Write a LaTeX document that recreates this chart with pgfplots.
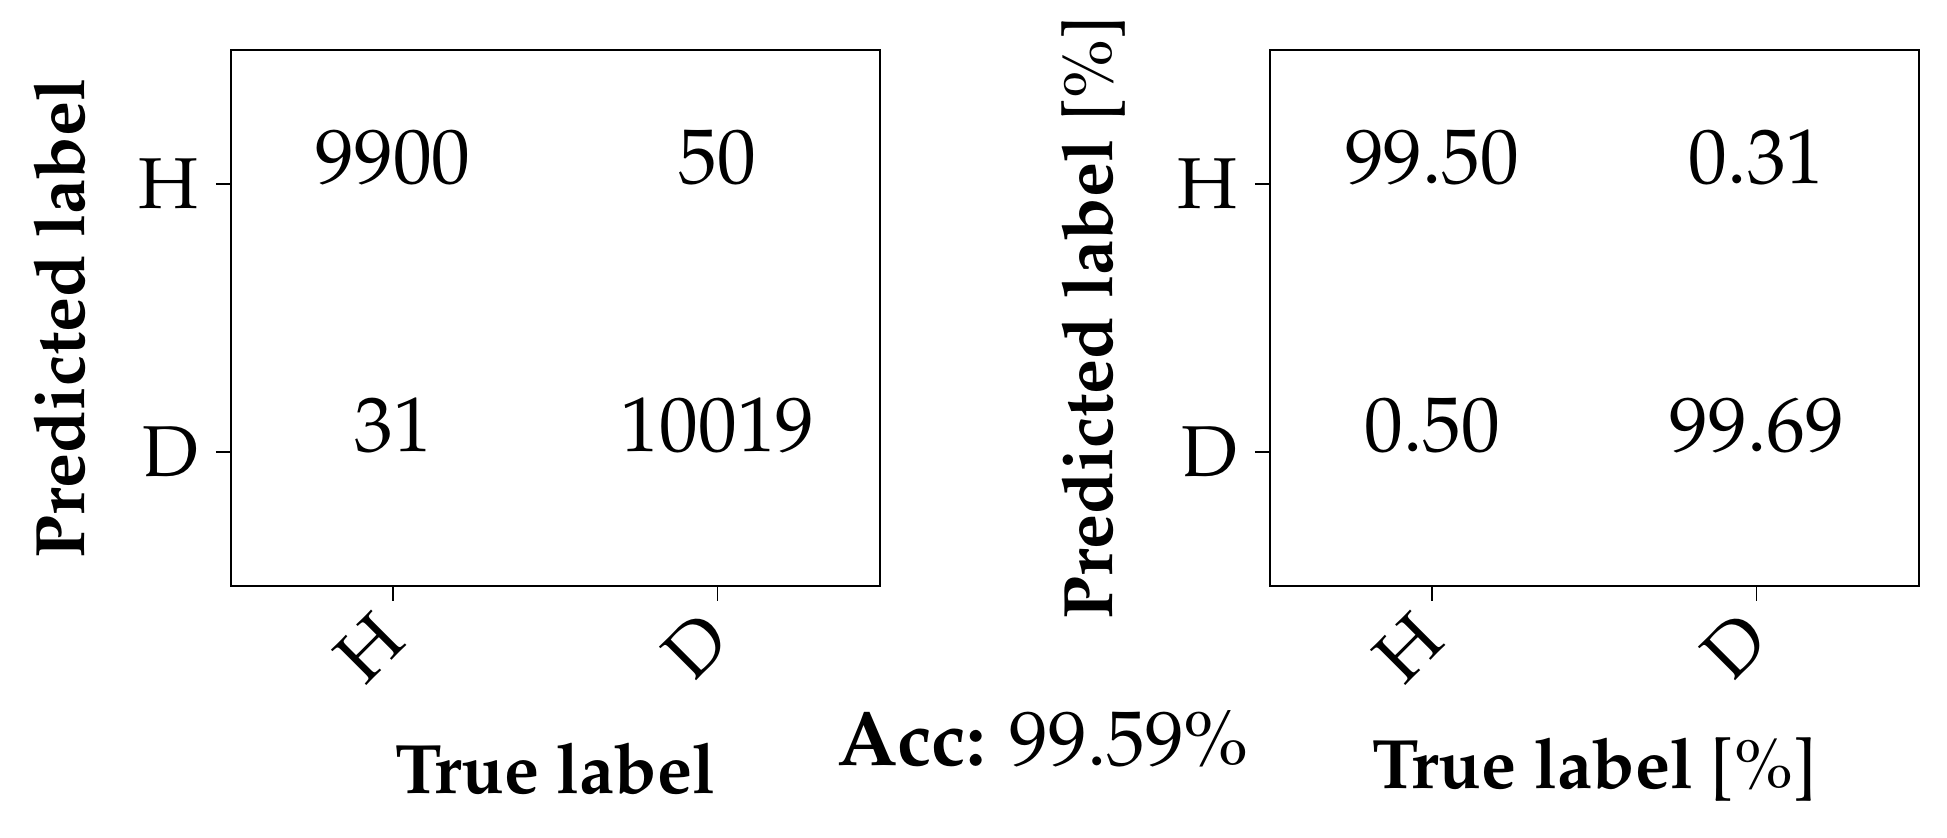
\documentclass[border=0pt]{standalone}
\usepackage[T1]{fontenc}
\usepackage{mathpazo}
\usepackage{pgfplots}
\pgfplotsset{compat=1.18}
\newcommand{\fs}{\fontsize{14.4}{17}\selectfont}
\newcommand{\fl}{\fontsize{14.0}{17}\selectfont}
\newcommand{\fn}{\fontsize{15.5}{18}\selectfont}

% confusion matrix look: 2x2 cells, ticks outside, numbers at cell centres
\pgfplotsset{cm/.style={
    scale only axis, width=129.8pt, height=107.2pt,
    xmin=-0.5, xmax=1.5, ymin=-0.5, ymax=1.5,
    xtick={0,1}, xticklabels={H,D},
    ytick={0,1}, yticklabels={D,H},
    tick align=outside, xtick pos=bottom, ytick pos=left,
    major tick length=3pt,
    tick label style={font=\fs},
    x tick label style={xshift=2pt, yshift=-2.7pt, rotate=45, anchor=east},
    axis line style={line width=0.3pt},
    every tick/.style={black, line width=0.3pt},
    label style={font=\fl\bfseries},
    clip=false,
    nodes near coords, point meta=explicit symbolic,
    every node near coord/.append style={anchor=base, font=\fn, inner sep=0pt, black},
}}

\begin{document}
\begin{tikzpicture}
\useasboundingbox (0,0) rectangle (389.4pt,-167.6pt);

\begin{axis}[cm, at={(46.2pt,-117.2pt)}, anchor=south west,
    xlabel={True label}, ylabel={Predicted label},
    xlabel style={at={(axis description cs:0.5,-0.341)}, anchor=center},
    ylabel style={at={(axis description cs:-0.264,0.5)}, anchor=center}]
\addplot[draw=none, mark=none] table[meta=v] {
x y v
0 1 9900
1 1 50
0 0 31
1 0 10019
};
\end{axis}

\begin{axis}[cm, at={(254pt,-117.2pt)}, anchor=south west,
    xlabel={True label {\mdseries[\%]}}, ylabel={Predicted label {\mdseries[\%]}},
    xlabel style={at={(axis description cs:0.5,-0.343)}, anchor=center},
    ylabel style={at={(axis description cs:-0.271,0.5)}, anchor=center}]
\addplot[draw=none, mark=none] table[meta=v] {
x y v
0 1 99.50
1 1 0.31
0 0 0.50
1 0 99.69
};
\end{axis}

\node[font=\fn] at (208.6pt,-147.8pt) {\textbf{Acc:} 99.59\%};
\end{tikzpicture}
\end{document}
